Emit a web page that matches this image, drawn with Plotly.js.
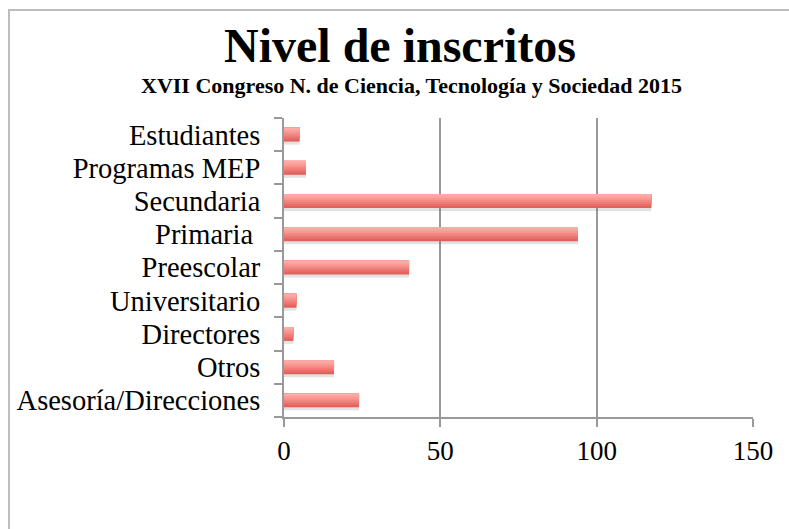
<!DOCTYPE html>
<html>
<head>
<meta charset="utf-8">
<script src="https://cdn.plot.ly/plotly-3.0.1.min.js"></script>
<style>
html,body{margin:0;padding:0;background:#fff;}
#chart{width:789px;height:529px;position:absolute;left:0;top:0;}
.frameH{position:absolute;left:8px;top:9px;width:781px;height:2px;background:#bdbdbd;}
.frameV{position:absolute;left:8px;top:9px;width:2px;height:520px;background:#bdbdbd;}
</style>
</head>
<body>
<div id="chart"></div>
<div class="frameH"></div>
<div class="frameV"></div>
<script>
// Data (bottom to top as drawn)
const categories = ["Asesoría/Direcciones", "Otros", "Directores", "Universitario", "Preescolar", "Primaria\u00a0", "Secundaria", "Programas MEP", "Estudiantes"];
const inscritos = [24, 16, 3, 4, 40, 94, 117.5, 7, 5];
const xTickValues = [0, 50, 100, 150];
const xTickLabels = ["0", "50", "100", "150"];
const titleText = "Nivel de inscritos";
const subtitleText = "XVII Congreso N. de Ciencia, Tecnología y Sociedad 2015";

const FONT = "Liberation Serif, Times New Roman, serif";
const barW = 0.42;
const bands = ["#e2605b", "#e86d67", "#ee7a75", "#f38882", "#f7958f", "#faa29d", "#fcaba7"];
const traces = [];
// soft shadow under bars
traces.push({
  type: "bar", orientation: "h", y: categories, x: inscritos,
  width: 0.14, offset: -barW / 2 - 0.09,
  marker: {color: "rgba(110,110,110,0.2)", line: {width: 0}},
  hoverinfo: "skip", showlegend: false
});
// gradient: each layer runs from its lower edge to the top of the bar
const bw = barW / bands.length;
bands.forEach((c, k) => {
  traces.push({
    type: "bar", orientation: "h", y: categories, x: inscritos,
    width: barW - k * bw, offset: -barW / 2 + k * bw,
    marker: {color: c, line: {width: 0}},
    hoverinfo: "x", showlegend: false
  });
});

const layout = {
  width: 789, height: 529,
  margin: {l: 284, r: 36, t: 118, b: 112},
  paper_bgcolor: "rgba(0,0,0,0)", plot_bgcolor: "#fff",
  barmode: "overlay",
  showlegend: false,
  font: {family: FONT, color: "#000"},
  xaxis: {
    range: [0, 150], tickvals: xTickValues, ticktext: xTickLabels,
    showgrid: true, gridcolor: "#999999", gridwidth: 2,
    showline: true, linecolor: "#999999", linewidth: 2,
    ticks: "outside", ticklen: 8, tickcolor: "#999999", tickwidth: 2,
    tickfont: {family: FONT, size: 27, color: "#000"},
    ticklabelstandoff: 1,
    zeroline: false, fixedrange: true
  },
  yaxis: {
    type: "category", categoryorder: "array", categoryarray: categories,
    tickmode: "linear", tick0: 0, dtick: 1,
    tickson: "boundaries",
    showgrid: false,
    showline: true, linecolor: "#999999", linewidth: 2,
    ticks: "outside", ticklen: 8, tickcolor: "#999999", tickwidth: 2,
    tickfont: {family: FONT, size: 28.5, color: "#000"},
    ticklabelstandoff: 16,
    range: [-0.5, 8.5], fixedrange: true
  },
  annotations: [
    {text: "<b>" + titleText + "</b>", xref: "paper", yref: "paper", x: (400 - 284) / 469, y: (417 - 46) / 299,
     xanchor: "center", yanchor: "middle", showarrow: false, font: {family: FONT, size: 48, color: "#000"}},
    {text: "<b>" + subtitleText + "</b>", xref: "paper", yref: "paper", x: (411 - 284) / 469, y: (417 - 85) / 299,
     xanchor: "center", yanchor: "middle", showarrow: false, font: {family: FONT, size: 22, color: "#000"}}
  ]
};
Plotly.newPlot("chart", traces, layout, {displayModeBar: false, staticPlot: true});
</script>
</body>
</html>
